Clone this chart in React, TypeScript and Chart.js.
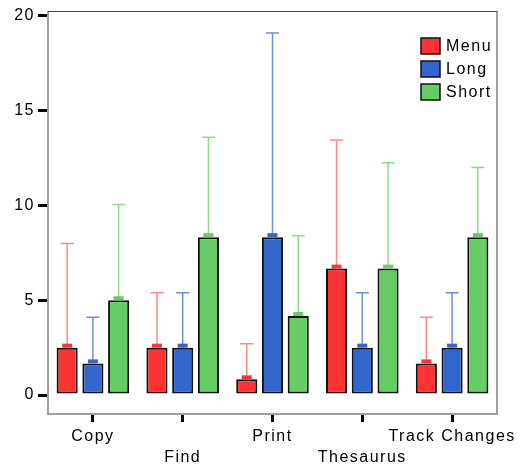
import React, { useEffect, useRef } from 'react';
import { Chart, registerables } from 'chart.js';

Chart.register(...registerables);

const categories = ['Copy', 'Find', 'Print', 'Thesaurus', 'Track Changes'];
const seriesNames = ['Menu', 'Long', 'Short'];
const menuValues = [2.5, 2.5, 0.83, 6.67, 1.67];
const longValues = [1.67, 2.5, 8.33, 2.5, 2.5];
const shortValues = [5.0, 8.33, 4.17, 6.67, 8.33];
const menuUpper = [8.0, 5.4, 2.7, 13.45, 4.1];
const longUpper = [4.1, 5.4, 19.1, 5.4, 5.4];
const shortUpper = [10.05, 13.6, 8.4, 12.25, 12.0];
const yTickValues = [0, 5, 10, 15, 20];

const barColors = ['#ff3333', '#3366cc', '#66cc66'];
const whiskerColors = ['#ff8a8a', '#6d8fe0', '#8edb8e'];
const FONT = 'Liberation Sans, Arial, sans-serif';
const SPACING = '1.5px';

export default function App() {
  const ref = useRef<HTMLCanvasElement | null>(null);

  useEffect(() => {
    const canvas = ref.current;
    if (!canvas) return;
    const values = [menuValues, longValues, shortValues];
    const uppers = [menuUpper, longUpper, shortUpper];

    const spacingPlugin = {
      id: 'spacing',
      beforeUpdate(chart: any) {
        chart.ctx.letterSpacing = SPACING;
      },
      beforeDraw(chart: any) {
        chart.ctx.letterSpacing = SPACING;
      },
    };

    const framePlugin = {
      id: 'frame',
      afterDraw(chart: any) {
        const { ctx, chartArea } = chart;
        const { left, right, top, bottom } = chartArea;
        ctx.save();
        ctx.strokeStyle = '#a0a0a0';
        ctx.lineWidth = 2;
        ctx.beginPath();
        ctx.moveTo(left, top);
        ctx.lineTo(left, bottom);
        ctx.lineTo(right, bottom);
        ctx.lineTo(right, top);
        ctx.stroke();
        ctx.strokeStyle = '#444444';
        ctx.lineWidth = 1;
        ctx.beginPath();
        ctx.moveTo(left, top + 0.5);
        ctx.lineTo(right, top + 0.5);
        ctx.stroke();
        ctx.restore();
      },
    };

    const errorPlugin = {
      id: 'errorBars',
      afterDatasetsDraw(chart: any) {
        const { ctx } = chart;
        const yScale = chart.scales.y;
        ctx.save();
        chart.data.datasets.forEach((_ds: any, i: number) => {
          const meta = chart.getDatasetMeta(i);
          meta.data.forEach((el: any, j: number) => {
            const x = el.x;
            const yTop = el.y;
            const yUp = yScale.getPixelForValue(uppers[i][j]);
            ctx.strokeStyle = whiskerColors[i];
            ctx.lineWidth = 1.5;
            ctx.beginPath();
            ctx.moveTo(x, yTop);
            ctx.lineTo(x, yUp);
            ctx.moveTo(x - 6.5, yUp);
            ctx.lineTo(x + 6.5, yUp);
            ctx.stroke();
            ctx.fillStyle = barColors[i];
            ctx.fillRect(x - 5, yTop - 4, 10, 4);
          });
        });
        ctx.restore();
      },
    };

    const legendPlugin = {
      id: 'innerLegend',
      afterDraw(chart: any) {
        const { ctx, chartArea } = chart;
        const bx = chartArea.right - 76;
        const by = chartArea.top + 27;
        ctx.save();
        ctx.letterSpacing = SPACING;
        ctx.font = `16px ${FONT}`;
        ctx.textBaseline = 'middle';
        ctx.textAlign = 'left';
        seriesNames.forEach((name, i) => {
          const y = by + i * 23;
          ctx.fillStyle = barColors[i];
          ctx.fillRect(bx, y, 19, 16);
          ctx.strokeStyle = '#111111';
          ctx.lineWidth = 1.5;
          ctx.strokeRect(bx, y, 19, 16);
          ctx.fillStyle = '#000000';
          ctx.fillText(name, bx + 25, y + 9);
        });
        ctx.restore();
      },
    };

    const chart = new Chart(canvas, {
      type: 'bar',
      data: {
        labels: categories,
        datasets: seriesNames.map((name, i) => ({
          label: name,
          data: values[i],
          backgroundColor: barColors[i],
          borderColor: '#111111',
          borderWidth: 2,
          borderSkipped: false,
          categoryPercentage: 0.86,
          barPercentage: 0.82,
        })),
      },
      options: {
        responsive: false,
        animation: false,
        devicePixelRatio: 1,
        layout: { padding: { left: 0, top: 11, right: 25, bottom: 0 } },
        plugins: {
          legend: { display: false },
          tooltip: { enabled: false },
        },
        scales: {
          x: {
            offset: true,
            grid: {
              display: true,
              offset: false,
              drawOnChartArea: false,
              drawTicks: true,
              tickLength: 8,
              tickWidth: 3,
              tickColor: '#000000',
              lineWidth: 3,
              color: '#000000',
            },
            border: { display: false },
            ticks: {
              autoSkip: false,
              maxRotation: 0,
              minRotation: 0,
              padding: 4,
              color: '#000000',
              font: { family: FONT, size: 16, lineHeight: 1.3 },
              callback: (_v: any, idx: number) =>
                idx % 2 === 1 ? ['', categories[idx]] : [categories[idx]],
            },
            afterFit: (scale: any) => {
              scale.height = 51;
              scale.paddingLeft = 0;
              scale.paddingRight = 0;
            },
          },
          y: {
            min: -1,
            max: 20.26,
            grid: {
              display: true,
              drawOnChartArea: false,
              drawTicks: true,
              tickLength: 10,
              tickWidth: 3,
              tickColor: '#000000',
              lineWidth: 3,
              color: '#000000',
            },
            border: { display: false },
            ticks: {
              padding: 3,
              color: '#000000',
              font: { family: FONT, size: 16 },
            },
            afterBuildTicks: (scale: any) => {
              scale.ticks = yTickValues.map((v) => ({ value: v }));
            },
            afterFit: (scale: any) => {
              scale.width = 48;
              scale.paddingTop = 0;
              scale.paddingBottom = 0;
            },
          },
        },
      },
      plugins: [spacingPlugin, errorPlugin, framePlugin, legendPlugin],
    });

    return () => {
      chart.destroy();
    };
  }, []);

  return (
    <div style={{ position: 'fixed', left: 0, top: 0, width: 522, height: 465, background: '#ffffff' }}>
      <canvas ref={ref} width={522} height={465} style={{ width: 522, height: 465, display: 'block' }} />
    </div>
  );
}
